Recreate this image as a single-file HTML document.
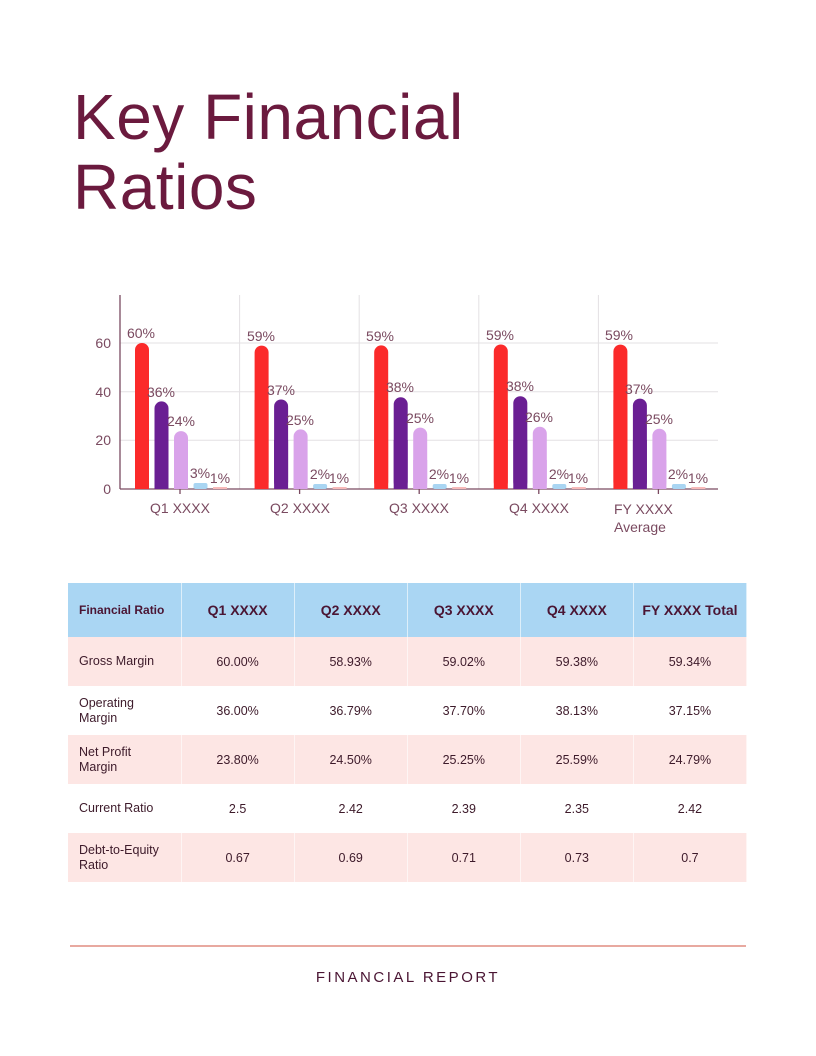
<!DOCTYPE html>
<html><head><meta charset="utf-8"><style>
*{margin:0;padding:0;box-sizing:border-box}
body{width:816px;height:1056px;background:#fff;position:relative;font-family:"Liberation Sans",sans-serif;overflow:hidden}
h1{position:absolute;left:73px;top:82px;font-size:64px;line-height:70px;font-weight:400;color:#6b1a3e;letter-spacing:0.5px}
svg{position:absolute;left:0;top:0}
table{position:absolute;left:68px;top:583px;width:679px;border-collapse:collapse;color:#3d1a2a;font-size:12.5px;table-layout:fixed}
td,th{text-align:center;border-right:1px solid rgba(255,255,255,0.6);padding:0;width:113px}
th{background:#aad6f3;height:54px;font-size:14px;color:#4a1533;font-weight:700}
th:first-child{font-size:12px;text-align:left;padding-left:11px}
td:first-child{text-align:left;padding-left:11px;line-height:15px}
tr.p td{background:#fde6e4}
td{height:49px}
.line{position:absolute;left:70px;top:945px;width:676px;height:2px;background:#e8a9a0}
.foot{position:absolute;left:0;width:816px;top:969px;text-align:center;font-size:15px;letter-spacing:2.5px;color:#4a1533}
</style></head><body>
<h1>Key Financial<br>Ratios</h1>
<svg width="816" height="560" font-family="Liberation Sans, sans-serif">
<g stroke="#e3e0e3" stroke-width="1">
<line x1="120" y1="343" x2="718" y2="343"/><line x1="120" y1="391.7" x2="718" y2="391.7"/><line x1="120" y1="440.3" x2="718" y2="440.3"/>
<line x1="239.6" y1="295" x2="239.6" y2="489"/><line x1="359.2" y1="295" x2="359.2" y2="489"/><line x1="478.8" y1="295" x2="478.8" y2="489"/><line x1="598.4" y1="295" x2="598.4" y2="489"/>
</g>
<g stroke="#7a4a60" stroke-width="1.3"><line x1="120" y1="295" x2="120" y2="489"/><line x1="120" y1="489" x2="718" y2="489"/>
<line x1="180" y1="489" x2="180" y2="494"/><line x1="299.6" y1="489" x2="299.6" y2="494"/><line x1="419.2" y1="489" x2="419.2" y2="494"/><line x1="538.8" y1="489" x2="538.8" y2="494"/><line x1="658.4" y1="489" x2="658.4" y2="494"/></g>
<g fill="#7a4a60" font-size="14" text-anchor="end"><text x="111" y="348">60</text><text x="111" y="397">40</text><text x="111" y="445">20</text><text x="111" y="494">0</text></g>
<g fill="#fb2a2a">
<rect x="135" y="343" width="14" height="146" rx="7"/><rect x="135" y="400" width="14" height="89"/>
<rect x="254.6" y="345.6" width="14" height="143.4" rx="7"/><rect x="254.6" y="400" width="14" height="89"/>
<rect x="374.2" y="345.4" width="14" height="143.6" rx="7"/><rect x="374.2" y="400" width="14" height="89"/>
<rect x="493.8" y="344.5" width="14" height="144.5" rx="7"/><rect x="493.8" y="400" width="14" height="89"/>
<rect x="613.4" y="344.6" width="14" height="144.4" rx="7"/><rect x="613.4" y="400" width="14" height="89"/>
</g>
<g fill="#6a1f93">
<rect x="154.5" y="401.4" width="14" height="87.6" rx="7"/><rect x="154.5" y="440" width="14" height="49"/>
<rect x="274.1" y="399.5" width="14" height="89.5" rx="7"/><rect x="274.1" y="440" width="14" height="49"/>
<rect x="393.7" y="397.3" width="14" height="91.7" rx="7"/><rect x="393.7" y="440" width="14" height="49"/>
<rect x="513.3" y="396.2" width="14" height="92.8" rx="7"/><rect x="513.3" y="440" width="14" height="49"/>
<rect x="632.9" y="398.6" width="14" height="90.4" rx="7"/><rect x="632.9" y="440" width="14" height="49"/>
</g>
<g fill="#d9a3ea">
<rect x="174" y="431.1" width="14" height="57.9" rx="7"/><rect x="174" y="460" width="14" height="29"/>
<rect x="293.6" y="429.4" width="14" height="59.6" rx="7"/><rect x="293.6" y="460" width="14" height="29"/>
<rect x="413.2" y="427.6" width="14" height="61.4" rx="7"/><rect x="413.2" y="460" width="14" height="29"/>
<rect x="532.8" y="426.7" width="14" height="62.3" rx="7"/><rect x="532.8" y="460" width="14" height="29"/>
<rect x="652.4" y="428.7" width="14" height="60.3" rx="7"/><rect x="652.4" y="460" width="14" height="29"/>
</g>
<g fill="#a9d5f2">
<rect x="193.5" y="483" width="14" height="6" rx="2"/><rect x="313.1" y="484" width="14" height="5" rx="2"/><rect x="432.7" y="484" width="14" height="5" rx="2"/><rect x="552.3" y="484" width="14" height="5" rx="2"/><rect x="671.9" y="484" width="14" height="5" rx="2"/>
</g>
<g fill="#f7b9b9">
<rect x="213" y="487" width="14" height="2"/><rect x="332.6" y="487" width="14" height="2"/><rect x="452.2" y="487" width="14" height="2"/><rect x="571.8" y="487" width="14" height="2"/><rect x="691.4" y="487" width="14" height="2"/>
</g>
<g fill="#7a4a60" font-size="14" text-anchor="middle">
<text x="141" y="338">60%</text><text x="161" y="397">36%</text><text x="181" y="426">24%</text><text x="200" y="478">3%</text><text x="220" y="483">1%</text>
<text x="261" y="341">59%</text><text x="281" y="395">37%</text><text x="300" y="425">25%</text><text x="320" y="479">2%</text><text x="339" y="483">1%</text>
<text x="380" y="341">59%</text><text x="400" y="392">38%</text><text x="420" y="423">25%</text><text x="439" y="479">2%</text><text x="459" y="483">1%</text>
<text x="500" y="340">59%</text><text x="520" y="391">38%</text><text x="539" y="422">26%</text><text x="559" y="479">2%</text><text x="578" y="483">1%</text>
<text x="619" y="340">59%</text><text x="639" y="394">37%</text><text x="659" y="424">25%</text><text x="678" y="479">2%</text><text x="698" y="483">1%</text>
<text x="180" y="513">Q1 XXXX</text><text x="300" y="513">Q2 XXXX</text><text x="419" y="513">Q3 XXXX</text><text x="539" y="513">Q4 XXXX</text>
</g>
<g fill="#7a4a60" font-size="14"><text x="614" y="514">FY XXXX</text><text x="614" y="532">Average</text></g>
</svg>
<table>
<tr><th>Financial Ratio</th><th>Q1 XXXX</th><th>Q2 XXXX</th><th>Q3 XXXX</th><th>Q4 XXXX</th><th>FY XXXX Total</th></tr>
<tr class="p"><td>Gross Margin</td><td>60.00%</td><td>58.93%</td><td>59.02%</td><td>59.38%</td><td>59.34%</td></tr>
<tr><td>Operating<br>Margin</td><td>36.00%</td><td>36.79%</td><td>37.70%</td><td>38.13%</td><td>37.15%</td></tr>
<tr class="p"><td>Net Profit<br>Margin</td><td>23.80%</td><td>24.50%</td><td>25.25%</td><td>25.59%</td><td>24.79%</td></tr>
<tr><td>Current Ratio</td><td>2.5</td><td>2.42</td><td>2.39</td><td>2.35</td><td>2.42</td></tr>
<tr class="p"><td>Debt-to-Equity<br>Ratio</td><td>0.67</td><td>0.69</td><td>0.71</td><td>0.73</td><td>0.7</td></tr>
</table>
<div class="line"></div>
<div class="foot">FINANCIAL REPORT</div>
</body></html>
